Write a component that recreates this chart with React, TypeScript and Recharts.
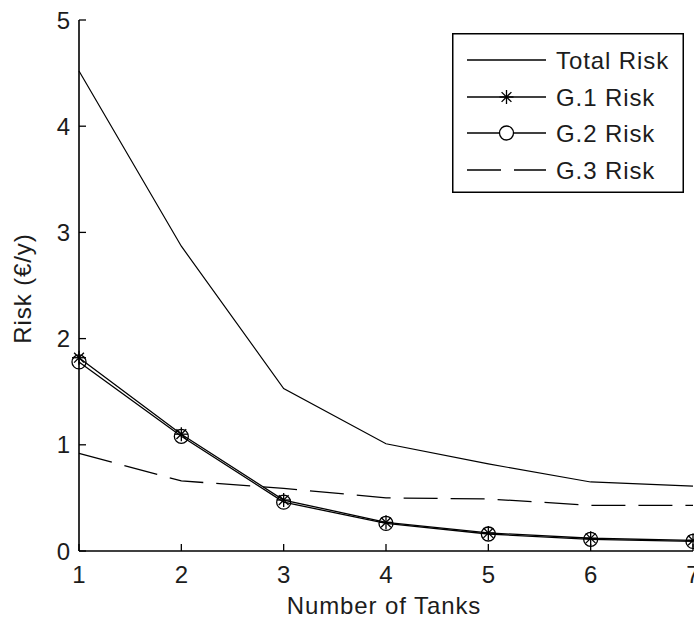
import React from 'react';
import { LineChart, Line, XAxis, YAxis, Legend } from 'recharts';

// ---- data ----
const tanks = [1, 2, 3, 4, 5, 6, 7];
const totalRisk = [4.52, 2.87, 1.53, 1.01, 0.82, 0.65, 0.61];
const g1Risk = [1.82, 1.1, 0.48, 0.27, 0.17, 0.12, 0.1];
const g2Risk = [1.78, 1.08, 0.46, 0.26, 0.16, 0.11, 0.09];
const g3Risk = [0.92, 0.66, 0.59, 0.5, 0.49, 0.43, 0.43];
const yTicks = [0, 1, 2, 3, 4, 5];
const seriesNames = ['Total Risk', 'G.1 Risk', 'G.2 Risk', 'G.3 Risk'];
const xLabel = 'Number of Tanks';
const yLabel = 'Risk (€/y)';

const data = tanks.map((t, i) => ({
  tanks: t,
  total: totalRisk[i],
  g1: g1Risk[i],
  g2: g2Risk[i],
  g3: g3Risk[i],
}));

const FONT = '"Liberation Sans", Arial, Helvetica, sans-serif';
const FS = 24;
const LS = 0.9;
const TXT = '#1c1c1c';
const TICK_LEN = 7;
const X_TICK_MARGIN = 14;
const Y_TICK_MARGIN = 9;
const DASH = '34 13';

const Asterisk = ({ cx, cy, r = 7 }: any) => {
  const d = r * 0.7;
  return (
    <g stroke="#000" strokeWidth={1.3}>
      <line x1={cx - r} y1={cy} x2={cx + r} y2={cy} />
      <line x1={cx} y1={cy - r} x2={cx} y2={cy + r} />
      <line x1={cx - d} y1={cy - d} x2={cx + d} y2={cy + d} />
      <line x1={cx - d} y1={cy + d} x2={cx + d} y2={cy - d} />
    </g>
  );
};

const BottomTick = ({ x, y, payload }: any) => (
  <g>
    <line
      x1={x}
      y1={y - X_TICK_MARGIN}
      x2={x}
      y2={y - X_TICK_MARGIN - TICK_LEN}
      stroke="#000"
      strokeWidth={1.3}
    />
    <text x={x} y={y + 18} textAnchor="middle" fontFamily={FONT} fontSize={FS} fill={TXT}>
      {payload.value}
    </text>
  </g>
);

const LeftTick = ({ x, y, payload }: any) => (
  <g>
    <line
      x1={x + Y_TICK_MARGIN}
      y1={y}
      x2={x + Y_TICK_MARGIN + TICK_LEN}
      y2={y}
      stroke="#000"
      strokeWidth={1.3}
    />
    <text x={x} y={y} dy="0.36em" textAnchor="end" fontFamily={FONT} fontSize={FS} fill={TXT}>
      {payload.value}
    </text>
  </g>
);

const LegendBox = () => {
  const rowY = [27, 64, 100, 137];
  const x1 = 15;
  const x2 = 94;
  const mid = (x1 + x2) / 2;
  return (
    <svg width={232} height={160} style={{ display: 'block' }}>
      <rect x={0.75} y={0.75} width={230.5} height={158.5} fill="#fff" stroke="#000" strokeWidth={1.5} />
      {seriesNames.map((name, i) => (
        <g key={name}>
          <line
            x1={x1}
            y1={rowY[i]}
            x2={x2}
            y2={rowY[i]}
            stroke="#000"
            strokeWidth={1.3}
            strokeDasharray={i === 3 ? DASH : undefined}
          />
          {i === 1 && <Asterisk cx={mid} cy={rowY[i]} r={7} />}
          {i === 2 && <circle cx={mid} cy={rowY[i]} r={7} fill="#fff" stroke="#000" strokeWidth={1.3} />}
          <text
            x={104}
            y={rowY[i]}
            dy="0.36em"
            fontFamily={FONT}
            fontSize={FS}
            letterSpacing={LS}
            fill={TXT}
          >
            {name}
          </text>
        </g>
      ))}
    </svg>
  );
};

export default function App() {
  return (
    <div
      style={{
        position: 'absolute',
        left: 0,
        top: 0,
        width: 694,
        height: 621,
        overflow: 'hidden',
        background: '#fff',
        fontFamily: FONT,
      }}
    >
      <LineChart
        width={700}
        height={621}
        data={data}
        margin={{ top: 20, right: 7, bottom: 0, left: 0 }}
      >
        <XAxis
          dataKey="tanks"
          type="number"
          domain={[1, 7]}
          ticks={tanks}
          height={70}
          tickSize={0}
          tickMargin={X_TICK_MARGIN}
          tickLine={false}
          axisLine={{ stroke: '#000', strokeWidth: 1.6 }}
          tick={<BottomTick />}
          label={{
            content: (p: any) => {
              const vb = p.viewBox;
              return (
                <text
                  x={vb.x + vb.width / 2 - 2}
                  y={vb.y + vb.height - 7}
                  textAnchor="middle"
                  fontFamily={FONT}
                  fontSize={FS}
                  letterSpacing={LS}
                  fill={TXT}
                >
                  {xLabel}
                </text>
              );
            },
          }}
        />
        <XAxis
          xAxisId="top"
          dataKey="tanks"
          orientation="top"
          mirror
          type="number"
          domain={[1, 7]}
          ticks={tanks}
          height={0}
          tick={false}
          tickSize={TICK_LEN}
          tickLine={{ stroke: '#000', strokeWidth: 1.3 }}
          axisLine={{ stroke: '#000', strokeWidth: 1.6 }}
        />
        <YAxis
          type="number"
          domain={[0, 5]}
          ticks={yTicks}
          width={79}
          tickSize={0}
          tickMargin={Y_TICK_MARGIN}
          tickLine={false}
          axisLine={{ stroke: '#000', strokeWidth: 1.6 }}
          tick={<LeftTick />}
          label={{
            content: (p: any) => {
              const vb = p.viewBox;
              const cx = vb.x + 22;
              const cy = vb.y + vb.height / 2 + 3;
              return (
                <text
                  x={cx}
                  y={cy}
                  transform={`rotate(-90, ${cx}, ${cy})`}
                  textAnchor="middle"
                  dominantBaseline="central"
                  fontFamily={FONT}
                  fontSize={FS}
                  letterSpacing={LS}
                  fill={TXT}
                >
                  {yLabel}
                </text>
              );
            },
          }}
        />
        <YAxis
          yAxisId="right"
          orientation="right"
          mirror
          type="number"
          domain={[0, 5]}
          ticks={yTicks}
          width={0}
          tick={false}
          tickSize={TICK_LEN}
          tickLine={{ stroke: '#000', strokeWidth: 1.3 }}
          axisLine={{ stroke: '#000', strokeWidth: 1.6 }}
        />
        <Legend
          layout="vertical"
          align="center"
          verticalAlign="middle"
          wrapperStyle={{ left: 452, top: 33, width: 232, height: 160 }}
          content={() => <LegendBox />}
        />
        <Line
          dataKey="total"
          name={seriesNames[0]}
          stroke="#000"
          strokeWidth={1.2}
          dot={false}
          isAnimationActive={false}
        />
        <Line
          dataKey="g3"
          name={seriesNames[3]}
          stroke="#000"
          strokeWidth={1.3}
          strokeDasharray={DASH}
          dot={false}
          isAnimationActive={false}
        />
        <Line
          dataKey="g2"
          name={seriesNames[2]}
          stroke="#000"
          strokeWidth={1.3}
          dot={{ r: 7, fill: 'none', stroke: '#000', strokeWidth: 1.3 }}
          isAnimationActive={false}
        />
        <Line
          dataKey="g1"
          name={seriesNames[1]}
          stroke="#000"
          strokeWidth={1.3}
          dot={(p: any) => <Asterisk key={`ast-${p.index}`} cx={p.cx} cy={p.cy} r={7} />}
          isAnimationActive={false}
        />
      </LineChart>
    </div>
  );
}
